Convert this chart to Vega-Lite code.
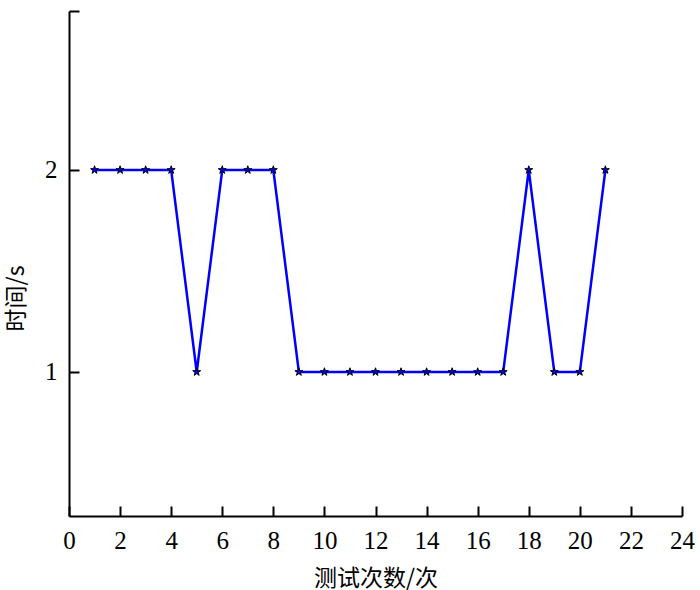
{
  "$schema": "https://vega.github.io/schema/vega-lite/v6.json",
  "width": 613,
  "height": 505,
  "autosize": "none",
  "padding": {"left": 69, "top": 11, "right": 18, "bottom": 74},
  "background": "white",
  "config": {"view": {"stroke": null}, "font": "Liberation Serif"},
  "data": {"values": [
    {"n": 1, "t": 2}, {"n": 2, "t": 2}, {"n": 3, "t": 2}, {"n": 4, "t": 2},
    {"n": 5, "t": 1}, {"n": 6, "t": 2}, {"n": 7, "t": 2}, {"n": 8, "t": 2},
    {"n": 9, "t": 1}, {"n": 10, "t": 1}, {"n": 11, "t": 1}, {"n": 12, "t": 1},
    {"n": 13, "t": 1}, {"n": 14, "t": 1}, {"n": 15, "t": 1}, {"n": 16, "t": 1},
    {"n": 17, "t": 1}, {"n": 18, "t": 2}, {"n": 19, "t": 1}, {"n": 20, "t": 1},
    {"n": 21, "t": 2}
  ]},
  "encoding": {
    "x": {
      "field": "n", "type": "quantitative",
      "scale": {"domain": [0, 24], "nice": false, "zero": false},
      "axis": {
        "title": "测试次数/次",
        "titleFont": "Noto Sans CJK SC",
        "titleFontSize": 23,
        "titleFontWeight": "normal",
        "titleColor": "black",
        "titleY": 62,
        "titleBaseline": "middle",
        "values": [0, 2, 4, 6, 8, 10, 12, 14, 16, 18, 20, 22, 24],
        "tickSize": -10,
        "tickColor": "black",
        "tickWidth": 2,
        "domainColor": "black",
        "domainWidth": 2,
        "grid": false,
        "labelFontSize": 25,
        "labelColor": "black",
        "labelPadding": 22,
        "labelFlush": false,
        "labelOverlap": false
      }
    },
    "y": {
      "field": "t", "type": "quantitative",
      "scale": {"domain": [0.287, 2.787], "nice": false, "zero": false},
      "axis": {
        "title": "时间/s",
        "titleFont": "Noto Sans CJK SC",
        "titleFontSize": 23,
        "titleFontWeight": "normal",
        "titleColor": "black",
        "titleX": -53,
        "titleY": 287,
        "titleAlign": "center",
        "titleBaseline": "middle",
        "values": [1, 2, 2.787],
        "labelExpr": "datum.value > 2.5 ? '' : datum.label",
        "tickSize": -10,
        "tickColor": "black",
        "tickWidth": 2,
        "domainColor": "black",
        "domainWidth": 2,
        "grid": false,
        "labelFontSize": 25,
        "labelColor": "black",
        "labelPadding": 22,
        "labelFlush": false
      }
    }
  },
  "layer": [
    {"mark": {"type": "line", "color": "#0000ff", "strokeWidth": 2.5}},
    {"mark": {
      "type": "point",
      "filled": true,
      "fill": "#0000ff",
      "stroke": "black",
      "strokeWidth": 1,
      "opacity": 1,
      "size": 70,
      "shape": "M0,-1L0.2245,-0.309L0.951,-0.309L0.363,0.118L0.588,0.809L0,0.382L-0.588,0.809L-0.363,0.118L-0.951,-0.309L-0.2245,-0.309Z"
    }}
  ]
}
